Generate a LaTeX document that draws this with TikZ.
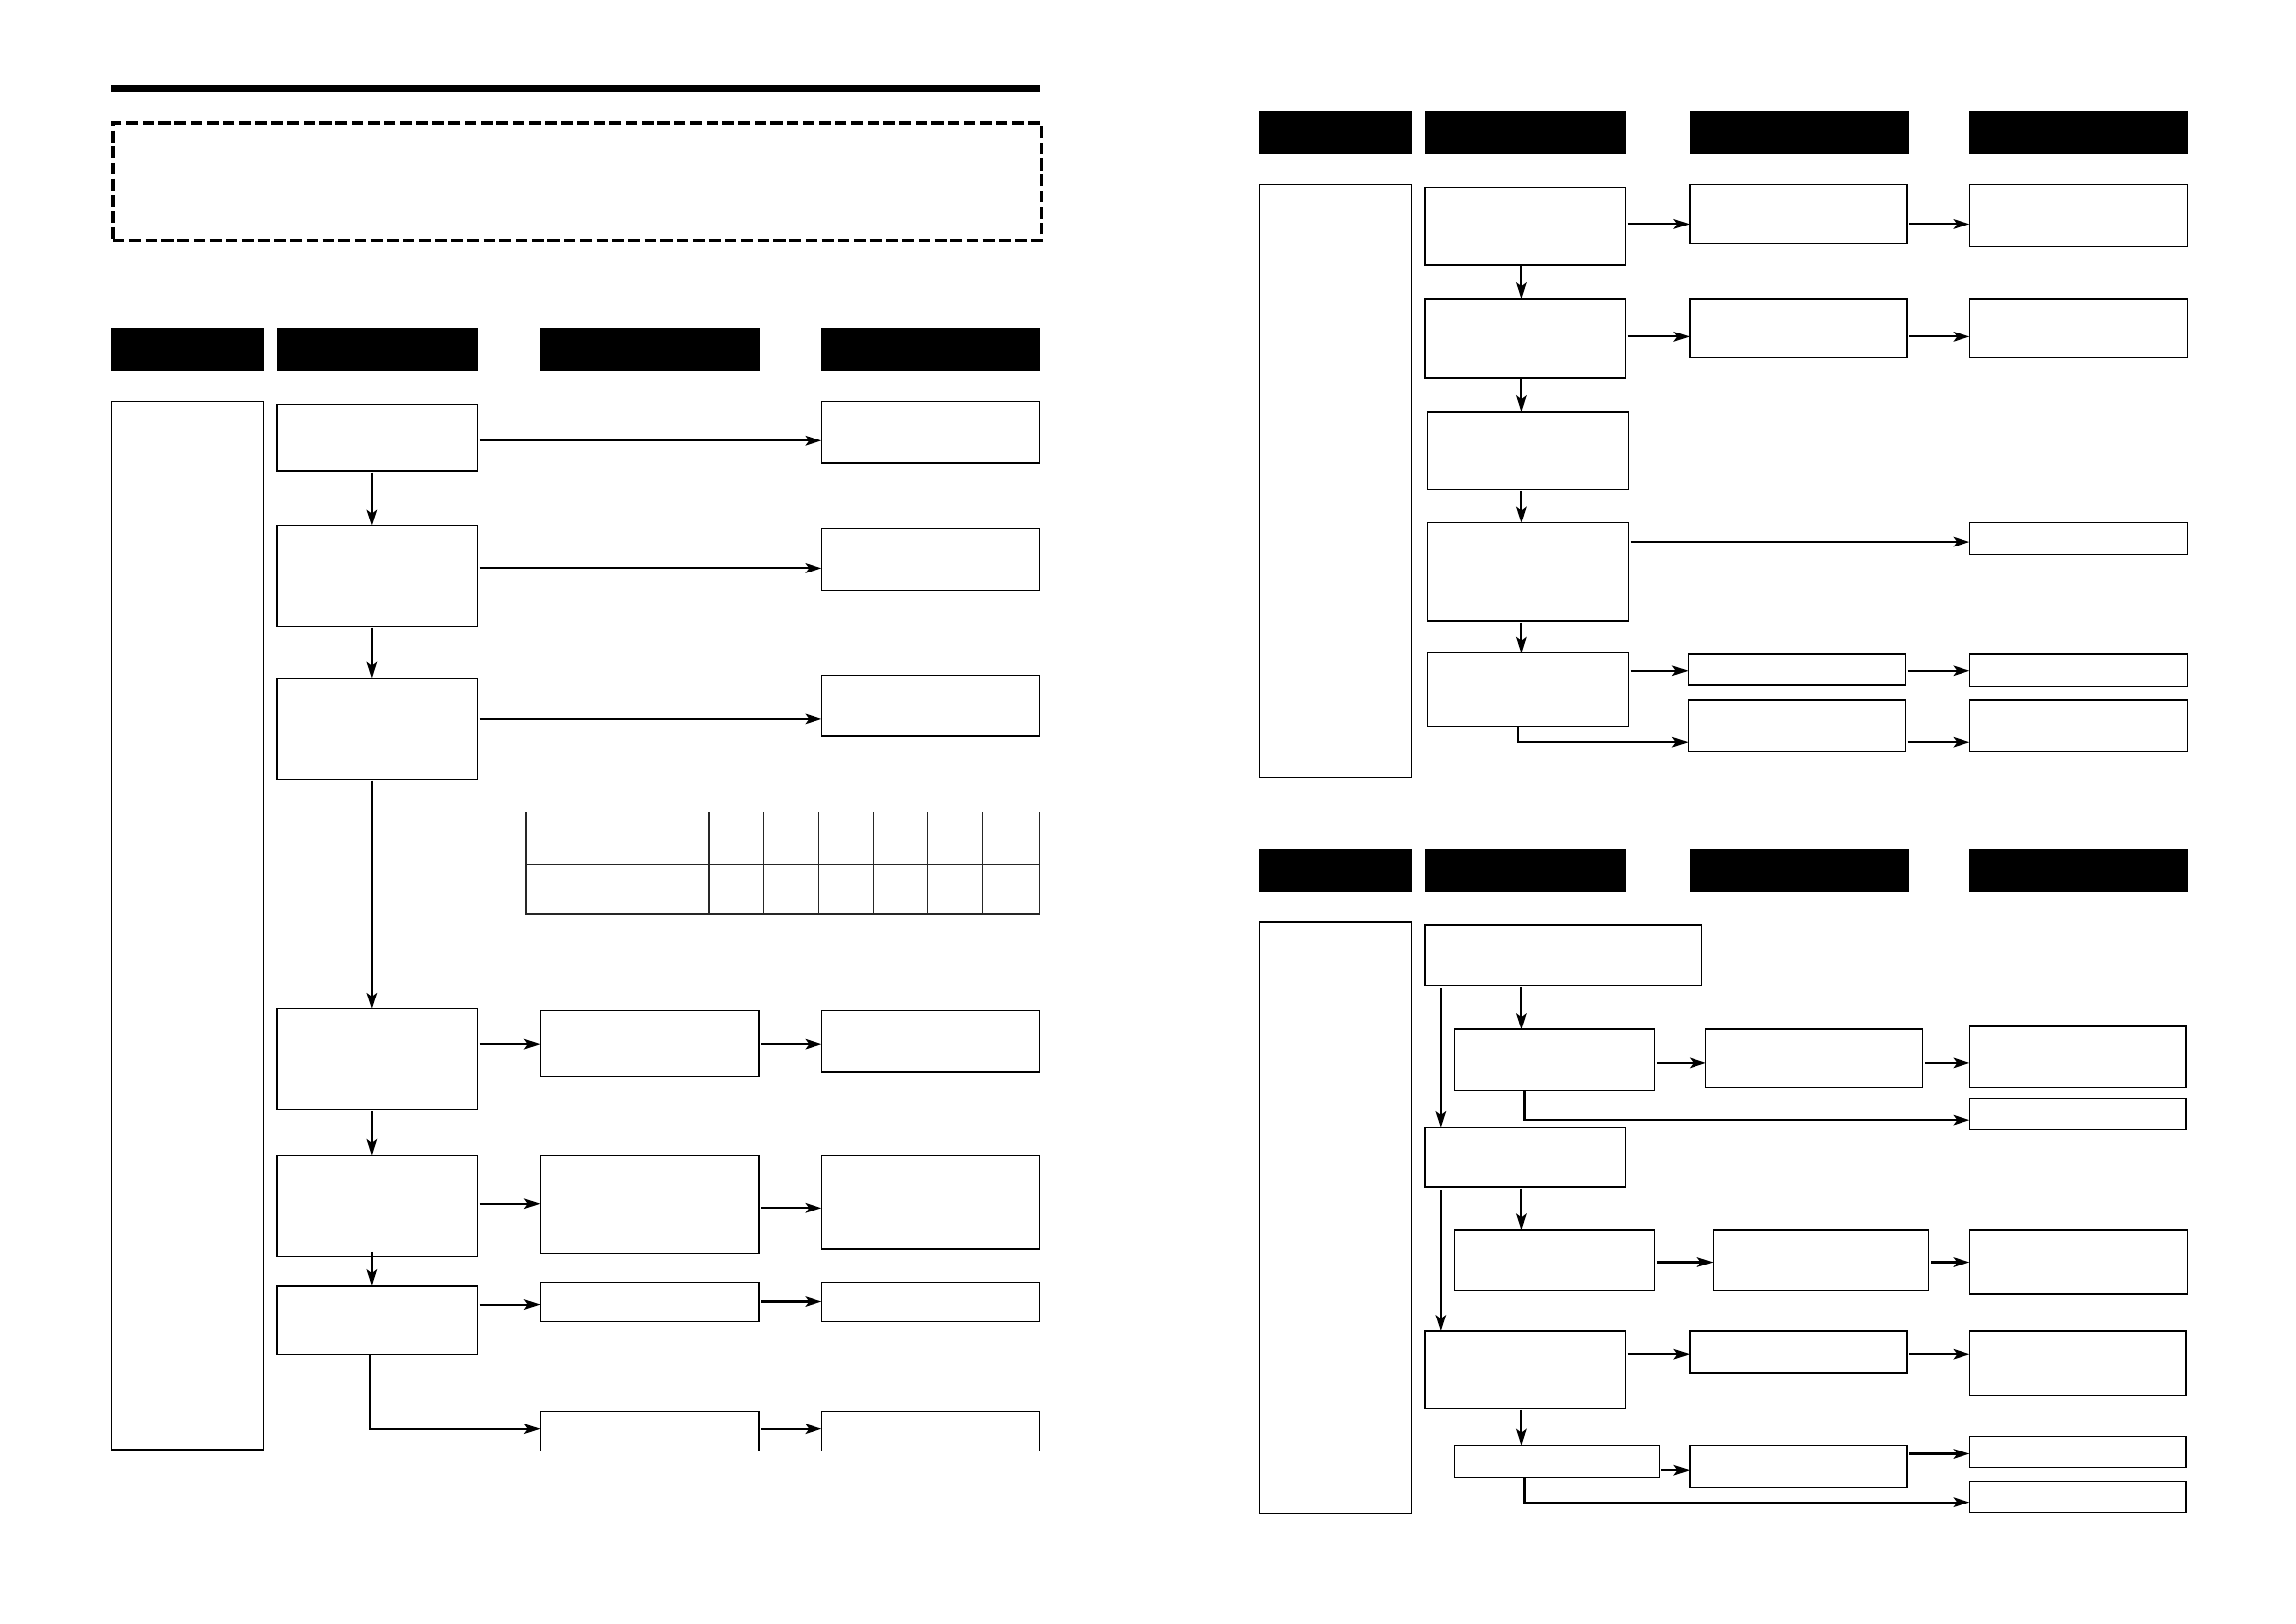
\documentclass[tikz,border=0pt]{standalone}
\usetikzlibrary{arrows.meta,calc}
\tikzset{
  box/.style={draw=black,line width=0.9pt,fill=white,inner sep=0pt,outer sep=0pt,rectangle,anchor=north west},
  hdr/.style={draw=black,fill=black,line width=0.5pt,inner sep=0pt,outer sep=0pt,rectangle,anchor=north west},
  arr/.style={line width=1.4pt,-{Stealth[length=11pt,width=7pt,inset=2.5pt]}},
  tbl/.style={draw=black!85,line width=0.9pt}
}
\newcommand\mkbox[6][box]{\node[#1,minimum width={(#5-#3)*1pt},minimum height={(#6-#4)*1pt}] (#2) at (#3,#4) {};}
% horizontal arrow: from, to, dy (displayed units down from centre of from)
\newcommand\harr[3]{\draw[arr] (#1.east) ++(1.5,#3) coordinate (tmp) -- (tmp -| #2.west);}
% vertical arrow: from, to, dx
\newcommand\varr[3]{\draw[arr] (#1.south) ++(#3,1) coordinate (tmp) -- (tmp |- #2.north);}
\begin{document}
\begin{tikzpicture}[x=1pt,y=-1pt]
\useasboundingbox (0,0) rectangle (1568,1109);
\fill[white] (0,0) rectangle (1568,1109);

% ===== LEFT PAGE =====
\draw[line width=4.5pt] (76,60) -- (710,60);
\node[draw=black,line width=2.4pt,dash pattern=on 8pt off 3pt,minimum width=634pt,minimum height=80pt,inner sep=0pt,anchor=north west] (note) at (76,83) {};

\mkbox[hdr]{LH1}{76}{224}{180}{253}
\mkbox[hdr]{LH2}{189}{224}{326}{253}
\mkbox[hdr]{LH3}{369}{224}{518}{253}
\mkbox[hdr]{LH4}{561}{224}{710}{253}

\mkbox{L0}{76}{274}{180}{990}

\mkbox{A1}{189}{276}{326}{322}
\mkbox{A2}{189}{359}{326}{428}
\mkbox{A3}{189}{463}{326}{532}
\mkbox{A4}{189}{689}{326}{758}
\mkbox{A5}{189}{789}{326}{858}
\mkbox{A6}{189}{878}{326}{925}

\mkbox{C4}{369}{690}{518}{735}
\mkbox{C5}{369}{789}{518}{856}
\mkbox{C6}{369}{876}{518}{903}
\mkbox{C7}{369}{964}{518}{991}

\mkbox{D1}{561}{274}{710}{316}
\mkbox{D2}{561}{361}{710}{403}
\mkbox{D3}{561}{461}{710}{503}
\mkbox{D4}{561}{690}{710}{732}
\mkbox{D5}{561}{789}{710}{853}
\mkbox{D6}{561}{876}{710}{903}
\mkbox{D7}{561}{964}{710}{991}

% table
\node[tbl,minimum width=350.5pt,minimum height=69.5pt,inner sep=0pt,outer sep=0pt,anchor=north west] (T) at (359.5,554.5) {};
\draw[tbl] (359.5,590) -- (710,590);
\foreach \xx in {484.6,521.7,559,596.7,633.6,671}{\draw[tbl] (\xx,554.5) -- (\xx,624);}

\harr{A1}{D1}{2}
\harr{A2}{D2}{-5.5}
\harr{A3}{D3}{-6.5}
\harr{A4}{C4}{-10.5}
\harr{C4}{D4}{0.5}
\harr{A5}{C5}{-1.5}
\harr{C5}{D5}{2.5}
\harr{A6}{C6}{-10.5}
\harr{C6}{D6}{-0.5}
\harr{C7}{D7}{-1.5}

\varr{A1}{A2}{-3.5}
\varr{A2}{A3}{-3.5}
\varr{A3}{A4}{-3.5}
\varr{A4}{A5}{-3.5}
\draw[arr] (A5.south) ++(-3.5,-3) coordinate (tmp) -- (tmp |- A6.north);
\draw[arr] (A6.south) ++(-4.5,0) |- ([yshift=1.5pt]C7.west);

% ===== RIGHT PAGE, TOP =====
\mkbox[hdr]{RH1}{860}{76}{964}{105}
\mkbox[hdr]{RH2}{973}{76}{1110}{105}
\mkbox[hdr]{RH3}{1154}{76}{1303}{105}
\mkbox[hdr]{RH4}{1345}{76}{1494}{105}

\mkbox{R0}{860}{126}{964}{531}

\mkbox{B1}{973}{128}{1110}{181}
\mkbox{B2}{973}{204}{1110}{258}
\mkbox{B3}{975}{281}{1112}{334}
\mkbox{B4}{975}{357}{1112}{424}
\mkbox{B5}{975}{446}{1112}{496}

\mkbox{E1}{1154}{126}{1302}{166}
\mkbox{E2}{1154}{204}{1302}{244}
\mkbox{E5}{1153}{447}{1301}{468}
\mkbox{E6}{1153}{478}{1301}{513}

\mkbox{F1}{1345}{126}{1494}{168}
\mkbox{F2}{1345}{204}{1494}{244}
\mkbox{F4}{1345}{357}{1494}{379}
\mkbox{F5}{1345}{447}{1494}{469}
\mkbox{F6}{1345}{478}{1494}{513}

\harr{B1}{E1}{-1.5}
\harr{E1}{F1}{7}
\harr{B2}{E2}{-1}
\harr{E2}{F2}{6}
\harr{B4}{F4}{-20.5}
\harr{B5}{E5}{-13}
\harr{E5}{F5}{0.5}
\harr{E6}{F6}{11.5}

\varr{B1}{B2}{-2.5}
\varr{B2}{B3}{-2.5}
\varr{B3}{B4}{-4.5}
\varr{B4}{B5}{-4.5}
\draw[arr] (B5.south) ++(-6.5,0) |- ([yshift=-11.5pt]E6.west);

% ===== RIGHT PAGE, BOTTOM =====
\mkbox[hdr]{SH1}{860}{580}{964}{609}
\mkbox[hdr]{SH2}{973}{580}{1110}{609}
\mkbox[hdr]{SH3}{1154}{580}{1303}{609}
\mkbox[hdr]{SH4}{1345}{580}{1494}{609}

\mkbox{S0}{860}{630}{964}{1034}

\mkbox{G1}{973}{632}{1162}{673}
\mkbox{G2}{993}{703}{1130}{745}
\mkbox{G3}{973}{770}{1110}{811}
\mkbox{G4}{993}{840}{1130}{881}
\mkbox{G5}{973}{909}{1110}{962}
\mkbox{G6}{993}{987}{1133}{1009}

\mkbox{H2}{1165}{703}{1313}{743}
\mkbox{H4}{1170}{840}{1317}{881}
\mkbox{H5}{1154}{909}{1302}{938}
\mkbox{H6}{1154}{987}{1302}{1016}

\mkbox{I2}{1345}{701}{1493}{743}
\mkbox{I2b}{1345}{750}{1493}{771}
\mkbox{I4}{1345}{840}{1494}{884}
\mkbox{I5}{1345}{909}{1493}{953}
\mkbox{I6}{1345}{981}{1493}{1002}
\mkbox{I6b}{1345}{1012}{1493}{1033}

\varr{G1}{G2}{-28.5}
\draw[arr] (G1.south) ++(-83.5,2) coordinate (tmp) -- (tmp |- G3.north);
\harr{G2}{H2}{2}
\harr{H2}{I2}{3}
\draw[arr] (G2.south) ++(-20.5,0) |- ([yshift=-4.5pt]I2b.west);

\varr{G3}{G4}{-2.5}
\draw[arr] (G3.south) ++(-57.5,2) coordinate (tmp) -- (tmp |- G5.north);
\harr{G4}{H4}{1.5}
\harr{H4}{I4}{1.5}

\harr{G5}{H5}{-10.5}
\harr{H5}{I5}{1.5}
\varr{G5}{G6}{-2.5}

\harr{G6}{H6}{6}
\harr{H6}{I6}{-8.5}
\draw[arr] (G6.south) ++(-22,0) |- ([yshift=-3.5pt]I6b.west);
\end{tikzpicture}
\end{document}
